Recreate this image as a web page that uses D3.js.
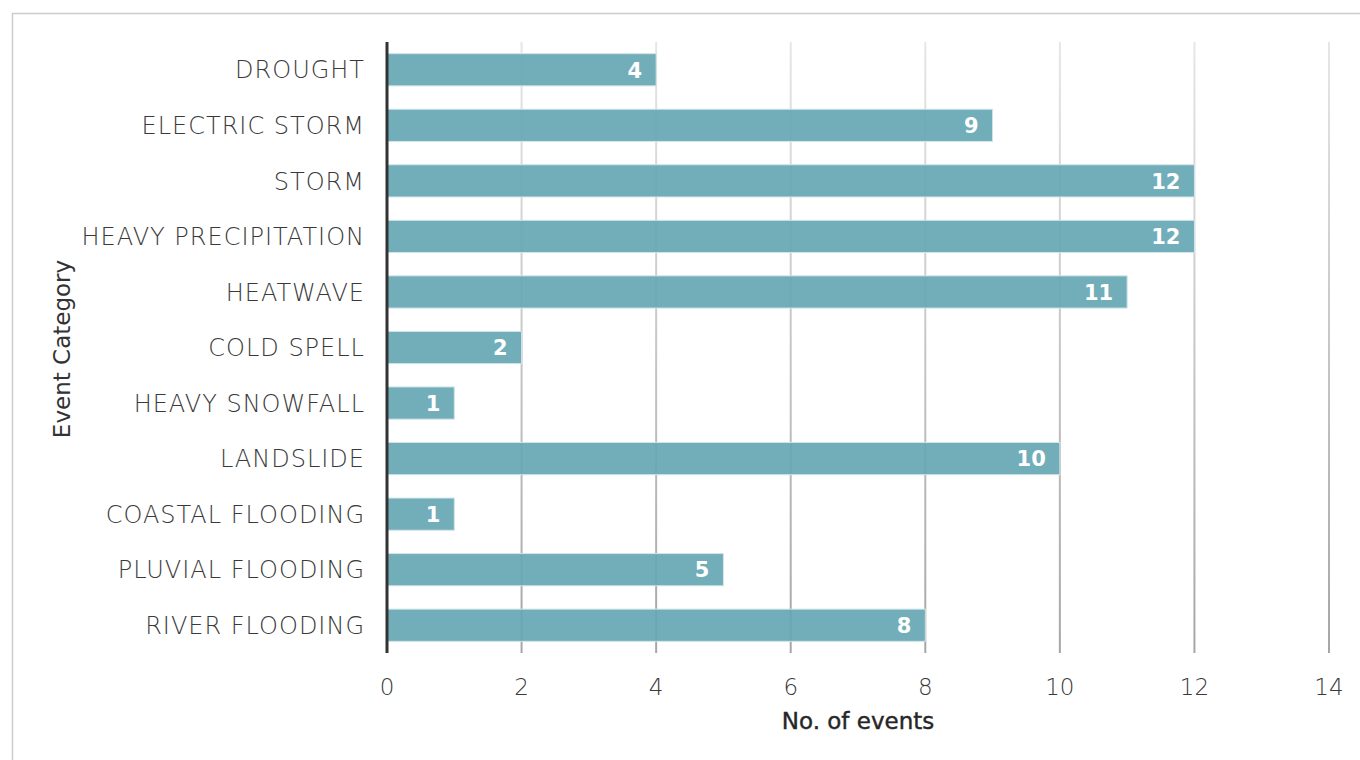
<!DOCTYPE html>
<html lang="en">
<head>
  <meta charset="UTF-8" />
  <title>Event categories</title>
  <style>
    body {
      margin: 0;
      background: white;
      overflow: hidden;
    }
    svg {
      display: block;
      font-family: "DejaVu Sans", sans-serif;
    }
    text {
      user-select: none;
    }
  </style>
</head>
<body>
<svg id="chart"></svg>
<script src="https://d3js.org/d3.v7.min.js"></script>
<script>
const categories = [
  "DROUGHT", "ELECTRIC STORM", "STORM", "HEAVY PRECIPITATION", "HEATWAVE",
  "COLD SPELL", "HEAVY SNOWFALL", "LANDSLIDE", "COASTAL FLOODING",
  "PLUVIAL FLOODING", "RIVER FLOODING"
];
const eventCounts = [4, 9, 12, 12, 11, 2, 1, 10, 1, 5, 8];
const xTicks = [0, 2, 4, 6, 8, 10, 12, 14];

const width = 1360;
const height = 760;
const margin = { top: 42, right: 31, bottom: 107, left: 387 };

const svg = d3.select("#chart")
  .attr("width", width)
  .attr("height", height);

// light frame round the chart (runs off right and bottom)
svg.append("rect")
  .attr("x", 12.5)
  .attr("y", 13.5)
  .attr("width", 1400)
  .attr("height", 800)
  .attr("fill", "none")
  .attr("stroke", "#cccccc")
  .attr("stroke-width", 1.5);

const x = d3.scaleLinear()
  .domain([0, 14])
  .range([margin.left, width - margin.right]);

const y = d3.scaleBand()
  .domain(categories)
  .range([margin.top, height - margin.bottom])
  .paddingInner(0.42)
  .paddingOuter(0.21);

// gridlines fade from light at the top to darker at the bottom
const defs = svg.append("defs");
const grad = defs.append("linearGradient")
  .attr("id", "gridGrad")
  .attr("gradientUnits", "userSpaceOnUse")
  .attr("x1", 0).attr("x2", 0)
  .attr("y1", margin.top).attr("y2", height - margin.bottom);
grad.append("stop").attr("offset", "0%").attr("stop-color", "#e6e6e6");
grad.append("stop").attr("offset", "100%").attr("stop-color", "#a6a6a6");

svg.append("g")
  .selectAll("line")
  .data(xTicks.filter(d => d > 0))
  .join("line")
  .attr("x1", d => x(d))
  .attr("x2", d => x(d))
  .attr("y1", margin.top)
  .attr("y2", height - margin.bottom)
  .attr("stroke", "url(#gridGrad)")
  .attr("stroke-width", 2);

// bars
const data = categories.map((c, i) => ({ category: c, value: eventCounts[i] }));

svg.append("g")
  .selectAll("rect")
  .data(data)
  .join("rect")
  .attr("x", x(0))
  .attr("y", d => y(d.category))
  .attr("width", d => x(d.value) - x(0))
  .attr("height", y.bandwidth())
  .attr("fill", "#66a7b3")
  .attr("fill-opacity", 0.92)
  .attr("stroke", "#d2e5e9")
  .attr("stroke-width", 1);

// value labels inside bar ends
svg.append("g")
  .selectAll("text")
  .data(data)
  .join("text")
  .attr("x", d => x(d.value) - 14)
  .attr("y", d => y(d.category) + y.bandwidth() / 2)
  .attr("dy", "0.37em")
  .attr("text-anchor", "end")
  .attr("fill", "white")
  .attr("font-size", 21)
  .attr("font-weight", "bold")
  .text(d => d.value);

// y axis line
svg.append("line")
  .attr("x1", x(0))
  .attr("x2", x(0))
  .attr("y1", margin.top)
  .attr("y2", height - margin.bottom)
  .attr("stroke", "#333333")
  .attr("stroke-width", 3);

// category labels
svg.append("g")
  .selectAll("text")
  .data(categories)
  .join("text")
  .attr("x", x(0) - 22)
  .attr("y", d => y(d) + y.bandwidth() / 2)
  .attr("dy", "0.36em")
  .attr("text-anchor", "end")
  .attr("fill", "#3a3a3a")
  .attr("font-size", 24)
  .attr("font-weight", 300)
  .attr("letter-spacing", 1)
  .text(d => d);

// x tick labels
svg.append("g")
  .selectAll("text")
  .data(xTicks)
  .join("text")
  .attr("x", d => x(d))
  .attr("y", 687)
  .attr("dy", "0.36em")
  .attr("text-anchor", "middle")
  .attr("fill", "#3a3a3a")
  .attr("font-size", 23)
  .attr("font-weight", 300)
  .text(d => d);

// axis titles
svg.append("text")
  .attr("x", 858)
  .attr("y", 721)
  .attr("dy", "0.36em")
  .attr("text-anchor", "middle")
  .attr("fill", "#262626")
  .attr("font-size", 23)
  .attr("stroke", "#262626")
  .attr("stroke-width", 0.4)
  .text("No. of events");

svg.append("text")
  .attr("transform", "translate(62,349) rotate(-90)")
  .attr("dy", "0.36em")
  .attr("text-anchor", "middle")
  .attr("fill", "#333333")
  .attr("font-size", 23)
  .text("Event Category");
</script>
</body>
</html>
